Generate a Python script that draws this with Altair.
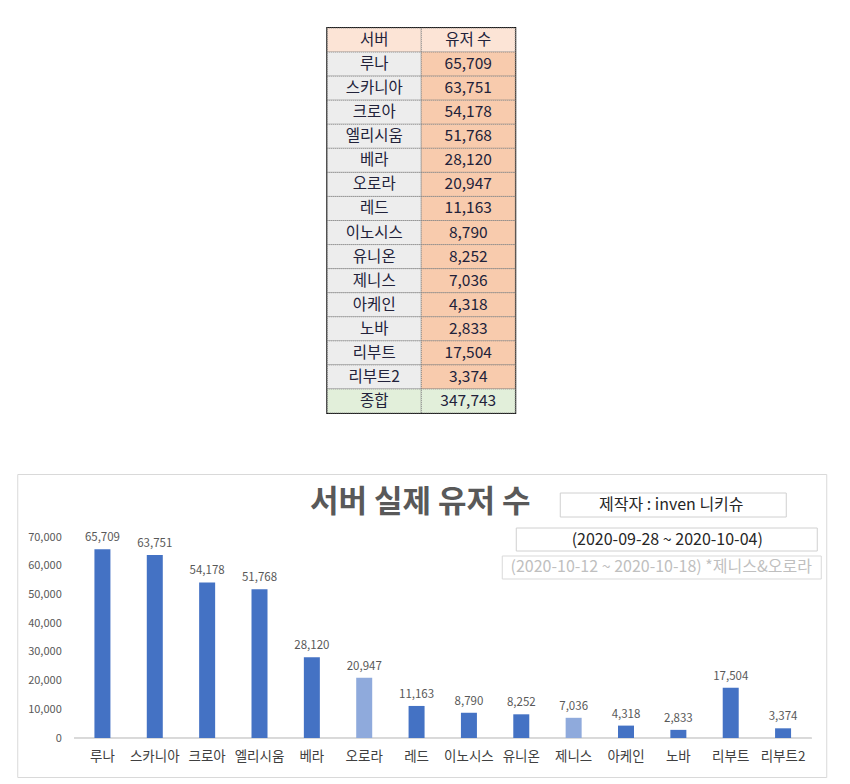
import altair as alt
import pandas as pd

FONT = "Noto Sans CJK KR"

# ---- data ----
servers = ["루나", "스카니아", "크로아", "엘리시움", "베라", "오로라", "레드",
           "이노시스", "유니온", "제니스", "아케인", "노바", "리부트", "리부트2"]
users = [65709, 63751, 54178, 51768, 28120, 20947, 11163,
         8790, 8252, 7036, 4318, 2833, 17504, 3374]
later_period_servers = ["오로라", "제니스"]
total_users = 347743
header = ["서버", "유저 수"]
total_label = "종합"
y_ticks = [0, 10000, 20000, 30000, 40000, 50000, 60000, 70000]

chart_title = "서버 실제 유저 수"
author_text = "제작자 : inven 니키슈"
period_text = "(2020-09-28 ~ 2020-10-04)"
later_text = "(2020-10-12 ~ 2020-10-18) *제니스&오로라"

# ---- table ----
t_names = [header[0]] + servers + [total_label]
t_values = [header[1]] + [f"{v:,}" for v in users] + [f"{total_users:,}"]
n_rows = len(t_names)
recs = []
for i, (nm, vl) in enumerate(zip(t_names, t_values)):
    if i == 0:
        k1, k2 = "h", "h"
    elif i == n_rows - 1:
        k1, k2 = "t", "t"
    else:
        k1, k2 = "n", "v"
    recs.append({"row": i, "col": "c1", "text": nm, "kind": k1})
    recs.append({"row": i, "col": "c2", "text": vl, "kind": k2})
tdf = pd.DataFrame(recs)

tbase = alt.Chart(tdf).encode(
    x=alt.X("col:N", sort=["c1", "c2"], axis=None,
            scale=alt.Scale(paddingInner=0, paddingOuter=0)),
    y=alt.Y("row:O", axis=None, scale=alt.Scale(paddingInner=0, paddingOuter=0)),
)
tcells = tbase.mark_rect(stroke="#7f7f7f", strokeDash=[1, 1], strokeWidth=1).encode(
    fill=alt.Fill("kind:N",
                  scale=alt.Scale(domain=["h", "n", "v", "t"],
                                  range=["#FCE4D6", "#EDEDED", "#F8CBAD", "#E2EFDA"]),
                  legend=None)
)
ttext = tbase.mark_text(font=FONT, fontSize=15.5, color="#22223a",
                        align="center", baseline="middle").encode(text="text:N")
table = alt.layer(tcells, ttext).properties(
    width=188, height=385,
    view=alt.ViewBackground(stroke="#111111", strokeWidth=2),
)

# ---- bar chart ----
bdf = pd.DataFrame({
    "server": servers,
    "users": users,
    "period": ["later" if s in later_period_servers else "main" for s in servers],
})

bbase = alt.Chart(bdf).encode(
    x=alt.X("server:N", sort=servers,
            scale=alt.Scale(range=[59, 792], paddingInner=0, paddingOuter=0),
            axis=alt.Axis(title=None, labelAngle=0, domain=False, ticks=False,
                          tickSize=0, labelPadding=11, offset=-39,
                          labelFont=FONT, labelFontSize=13.5, labelColor="#404040")),
    y=alt.Y("users:Q",
            scale=alt.Scale(domain=[0, 70000], range=[264, 63], nice=False),
            axis=alt.Axis(title=None, values=y_ticks,
                          labelExpr="format(datum.value, ',')", domain=False,
                          ticks=False, tickSize=0, grid=False, labelPadding=3,
                          offset=-47, labelFont=FONT, labelFontSize=11,
                          labelColor="#595959")),
)
bars = bbase.mark_bar(size=16).encode(
    color=alt.Color("period:N",
                    scale=alt.Scale(domain=["main", "later"],
                                    range=["#4472C4", "#8FAADC"]),
                    legend=None)
)
labels = bbase.mark_text(baseline="bottom", dy=-6, font=FONT, fontSize=11.5,
                         color="#595959").encode(text=alt.Text("users:Q", format=","))

# baseline at zero value, drawn through the y scale
baseline = bbase.mark_rule(color="#d9d9d9", strokeWidth=1).encode(
    y=alt.datum(0), x=alt.value(57), x2=alt.value(794))

one = alt.Data(values=[{}])
title_mark = alt.Chart(one).mark_text(
    text=chart_title, font=FONT, fontSize=31, fontWeight="bold", color="#595959",
    align="center", baseline="middle").encode(x=alt.value(403), y=alt.value(29))

box1 = alt.Chart(one).mark_rect(fill="white", stroke="#d0d0d0", strokeWidth=1).encode(
    x=alt.value(543), x2=alt.value(769), y=alt.value(19), y2=alt.value(43))
txt1 = alt.Chart(one).mark_text(text=author_text, font=FONT, fontSize=16,
                                color="#262626", align="center", baseline="middle").encode(
    x=alt.value(654), y=alt.value(31))

box2 = alt.Chart(one).mark_rect(fill="white", stroke="#d0d0d0", strokeWidth=1).encode(
    x=alt.value(499), x2=alt.value(800), y=alt.value(54), y2=alt.value(77))
txt2 = alt.Chart(one).mark_text(text=period_text, font=FONT, fontSize=16,
                                color="#262626", align="center", baseline="middle").encode(
    x=alt.value(650), y=alt.value(66))

box3 = alt.Chart(one).mark_rect(fill="white", stroke="#d9d9d9", strokeWidth=1).encode(
    x=alt.value(485), x2=alt.value(804), y=alt.value(82), y2=alt.value(105))
txt3 = alt.Chart(one).mark_text(text=later_text, font=FONT, fontSize=16,
                                color="#bfbfbf", align="center", baseline="middle").encode(
    x=alt.value(644), y=alt.value(93))

barchart = alt.layer(baseline, bars, labels, title_mark, box1, txt1, box2, txt2,
                     box3, txt3).properties(
    width=809, height=303,
    view=alt.ViewBackground(stroke="#d9d9d9", strokeWidth=1),
)

chart = alt.vconcat(table, barchart, spacing=58, center=True).properties(
    padding={"left": 8, "top": 18, "right": 5, "bottom": 5},
    background="white",
)

chart.save("out.html", embed_options={"renderer": "svg", "actions": False})
